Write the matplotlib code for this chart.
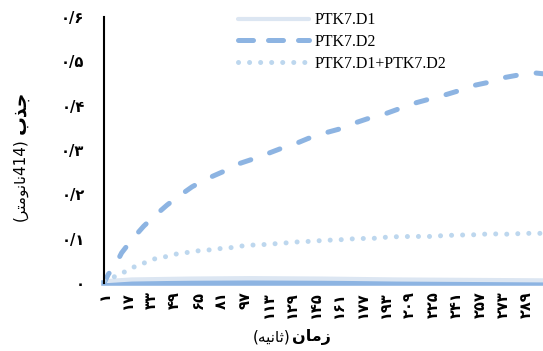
import numpy as np
import matplotlib
matplotlib.use("Agg")
import matplotlib.pyplot as plt

# series (x = time in seconds)
d2_x = [1, 4, 8, 13, 20, 28, 35, 44, 52, 61, 71, 82, 91, 101, 111, 122, 132, 140, 151,
        161, 171, 180, 192, 202, 214, 224, 232, 243, 252, 262, 273, 283, 294, 300]
d2_y = [0.0, 0.02, 0.036, 0.068, 0.098, 0.128, 0.15, 0.176, 0.196, 0.217, 0.235, 0.251,
        0.267, 0.278, 0.29, 0.304, 0.315, 0.326, 0.338, 0.347, 0.36, 0.37, 0.381, 0.393,
        0.407, 0.416, 0.423, 0.434, 0.445, 0.452, 0.463, 0.469, 0.474, 0.472]

mix_x = [1, 8, 15, 22, 29, 36, 44, 51, 58, 66, 74, 81, 88, 96, 104, 112, 119, 127, 134,
         142, 150, 164, 172, 187, 195, 210, 225, 232, 241, 256, 263, 278, 286, 300]
mix_y = [0.005, 0.014, 0.025, 0.037, 0.046, 0.055, 0.06, 0.066, 0.069, 0.073, 0.075,
         0.078, 0.08, 0.084, 0.086, 0.087, 0.089, 0.091, 0.093, 0.094, 0.096, 0.098, 0.1,
         0.101, 0.104, 0.105, 0.105, 0.107, 0.108, 0.109, 0.111, 0.11, 0.112, 0.112]

d1_x = [1, 20, 60, 100, 150, 200, 250, 300]
d1_y = [0.004, 0.008, 0.010, 0.011, 0.010, 0.008, 0.007, 0.006]

labels = ["PTK7.D1", "PTK7.D2", "PTK7.D1+PTK7.D2"]
x_ticks = list(range(1, 290, 16))
y_ticks = [0, 0.1, 0.2, 0.3, 0.4, 0.5, 0.6]

fa = str.maketrans("0123456789", "۰۱۲۳۴۵۶۷۸۹")

def fa_num(v):
    s = ("%g" % v).replace(".", "/")
    if s.startswith("/"):
        s = "0" + s
    return s.translate(fa)

c_d1 = "#dce6f2"
c_d2 = "#8db4e2"
c_mix = "#bdd7ee"

fig = plt.figure(figsize=(5.43, 3.51), dpi=100)
ax = fig.add_axes([104 / 543, 1 - 283 / 351, 1 - 104 / 543, (283 - 17) / 351])

ax.plot(d1_x, d1_y, color=c_d1, lw=3.0, solid_capstyle="round", label=labels[0])
ax.plot(d2_x, d2_y, color=c_d2, lw=3.6, dashes=(2.2, 4), dash_capstyle="round",
        label=labels[1])
ax.plot(mix_x, mix_y, color=c_mix, lw=3.6, dashes=(0.01, 2.2), dash_capstyle="round",
        label=labels[2])

ax.set_xlim(1, 300)
ax.set_ylim(0, 0.6)
for s in ["top", "right"]:
    ax.spines[s].set_visible(False)
ax.spines["left"].set_color("black")
ax.spines["left"].set_linewidth(1.5)
ax.spines["bottom"].set_color(c_d2)
ax.spines["bottom"].set_linewidth(4)
ax.spines["bottom"].set_zorder(1)

ax.set_xticks(x_ticks)
ax.set_xticklabels([str(t).translate(fa) for t in x_ticks], rotation=90,
                   fontsize=10.5, fontweight="bold", family="DejaVu Sans")
ax.set_yticks(y_ticks)
ax.set_yticklabels([fa_num(t) for t in y_ticks], fontsize=10.5, fontweight="bold",
                   family="DejaVu Sans")
ax.tick_params(axis="both", length=0)
ax.tick_params(axis="y", pad=14)
ax.tick_params(axis="x", pad=6)

leg = ax.legend(loc="upper left", bbox_to_anchor=(232 / 543, 1 - 6 / 351),
                bbox_transform=fig.transFigure, frameon=False, handlelength=4.45,
                handletextpad=0.35, labelspacing=0.35, borderaxespad=0,
                prop={"family": "Liberation Serif", "size": 11.5})
# legend handles show longer dashes than the plot
leg.get_lines()[1].set_dashes((3, 3))

# axis titles (Persian, written in visual order with presentation forms)
x_bold = "\ufee5\ufe8e\ufee3\ufeaf"
x_norm = "(\ufeea\ufef4\ufee7\ufe8e\ufe9b)"
fig.text(290 / 543, 1 - 337 / 351, x_norm, ha="right", va="center", fontsize=11,
         family="DejaVu Sans")
fig.text(292 / 543, 1 - 337 / 351, x_bold, ha="left", va="center", fontsize=11.5,
         fontweight="bold", family="DejaVu Sans")

y_bold = "\ufe8f\ufeac\ufe9f"
y_norm = "(\ufeae\ufe98\ufee3\ufeee\ufee7\ufe8e\ufee7414)"
fig.text(20 / 543, 1 - 138 / 351, y_norm, ha="center", va="top", rotation=90,
         fontsize=11, family="DejaVu Sans")
fig.text(20 / 543, 1 - 134 / 351, y_bold, ha="center", va="bottom", rotation=90,
         fontsize=13.5, fontweight="bold", family="DejaVu Sans")

fig.savefig("out.png", dpi=100)
